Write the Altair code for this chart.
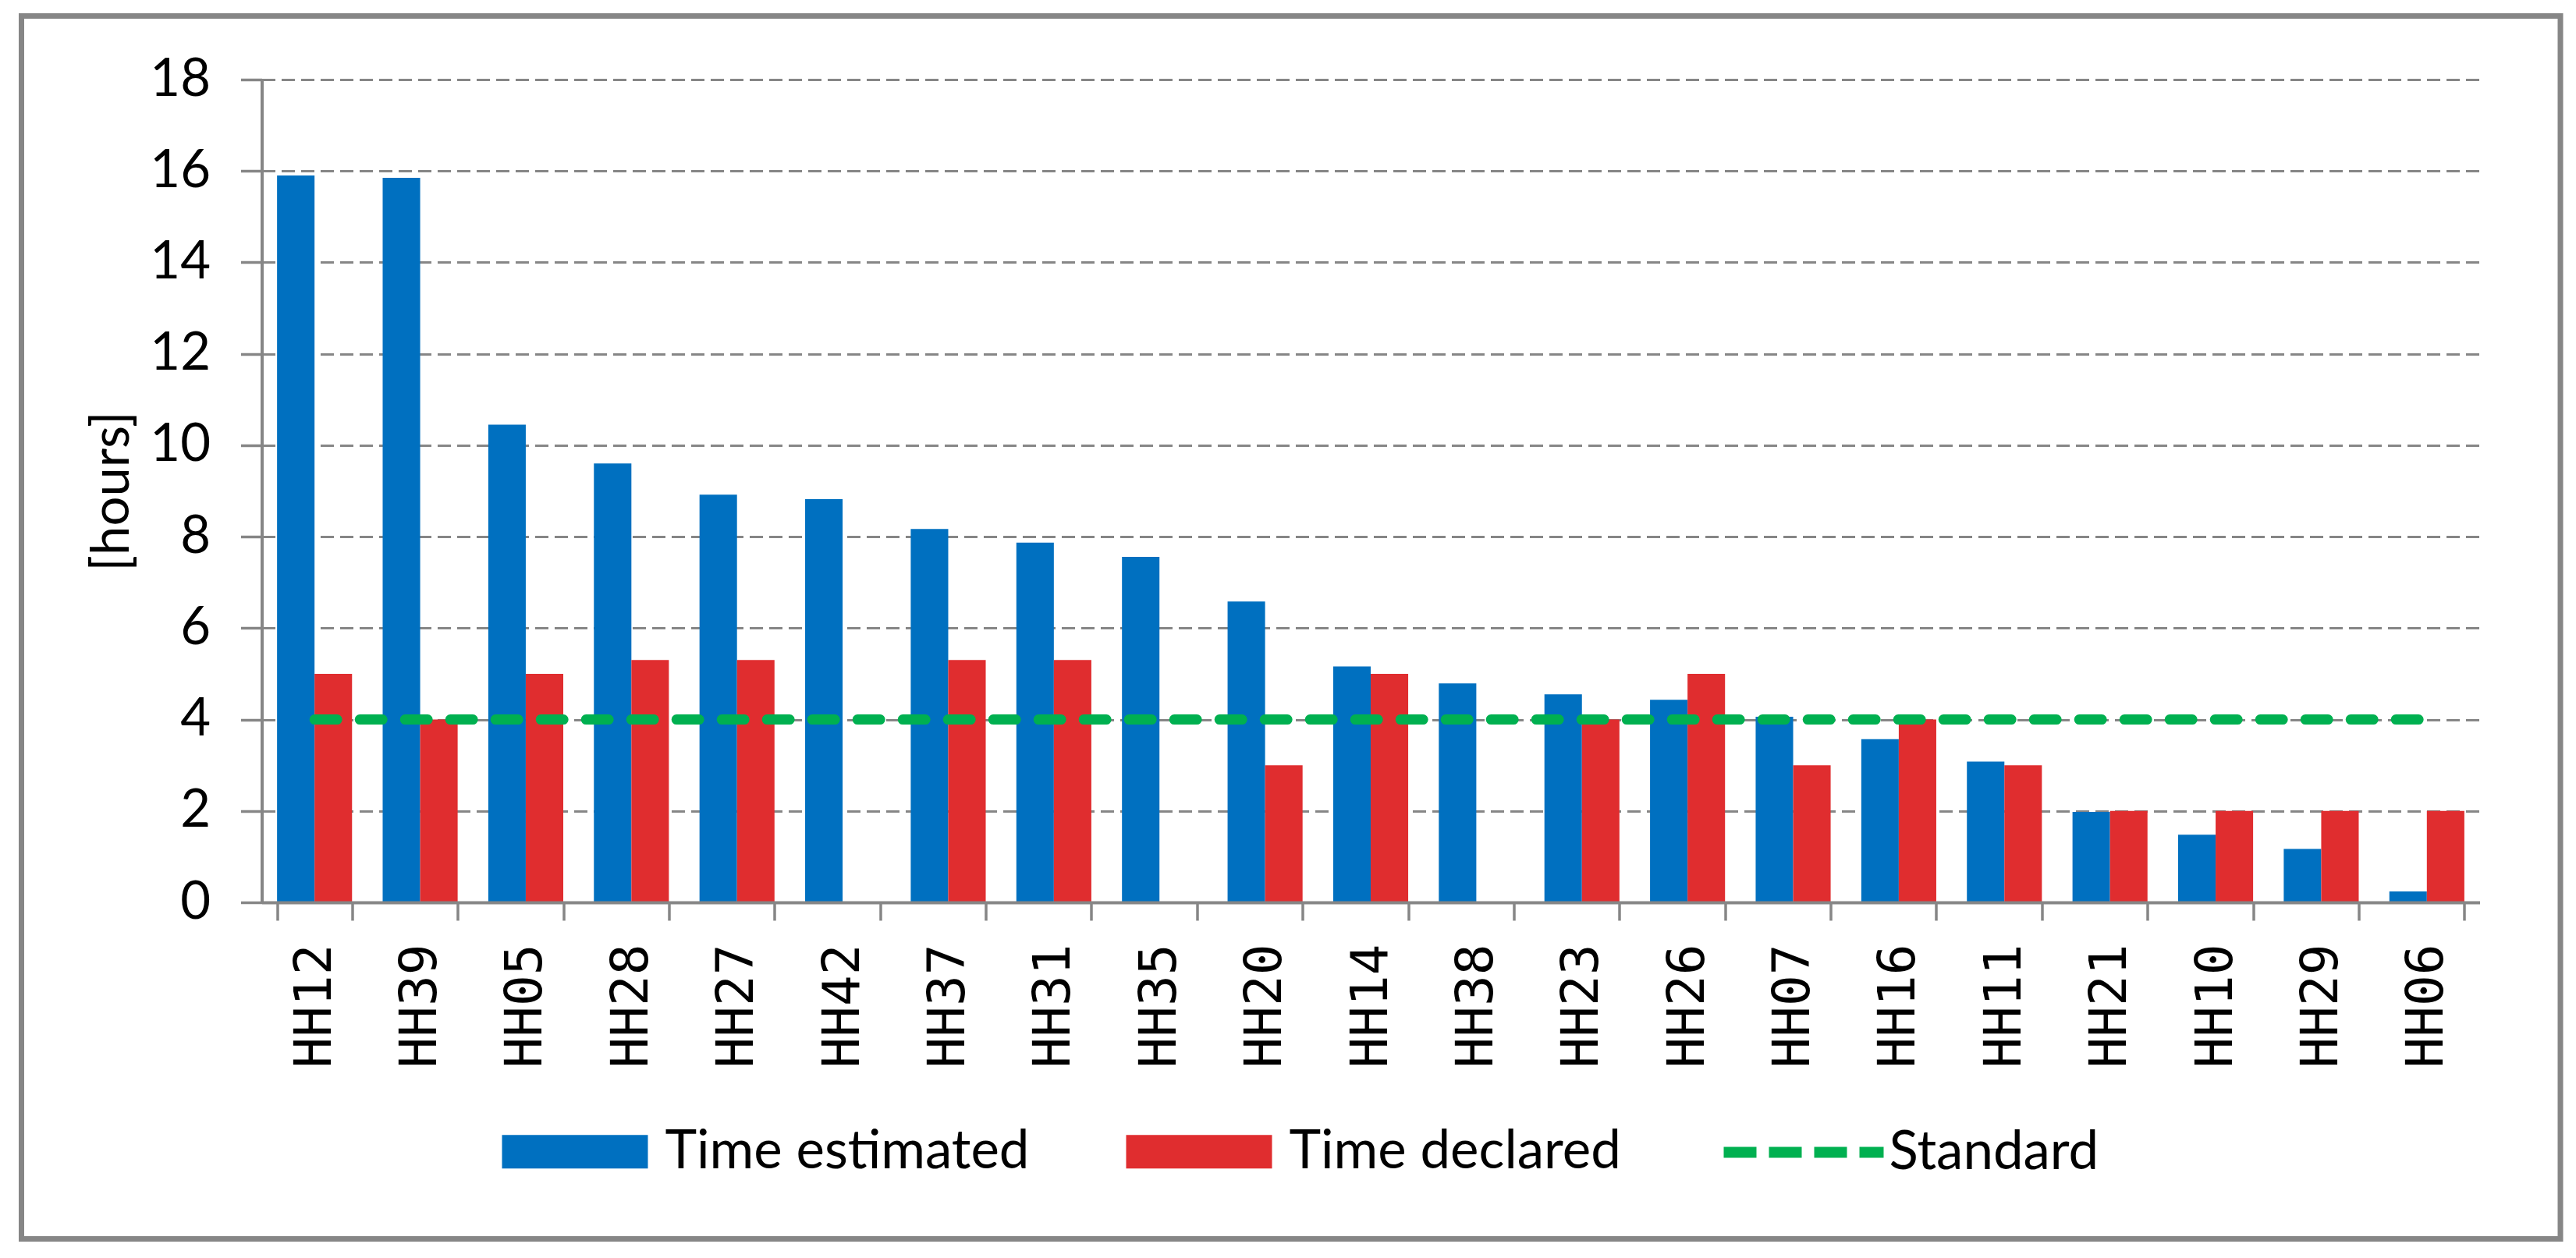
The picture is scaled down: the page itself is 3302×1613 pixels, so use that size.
import altair as alt
import pandas as pd

# ---- data ----
categories = ["HH12", "HH39", "HH05", "HH28", "HH27", "HH42", "HH37", "HH31", "HH35", "HH20",
              "HH14", "HH38", "HH23", "HH26", "HH07", "HH16", "HH11", "HH21", "HH10", "HH29", "HH06"]
time_estimated = [15.9, 15.85, 10.45, 9.6, 8.92, 8.82, 8.17, 7.87, 7.56, 6.58,
                  5.16, 4.79, 4.55, 4.43, 4.06, 3.57, 3.08, 1.98, 1.48, 1.17, 0.24]
time_declared = [5.0, 4.0, 5.0, 5.3, 5.3, None, 5.3, 5.3, None, 3.0,
                 5.0, None, 4.0, 5.0, 3.0, 4.0, 3.0, 2.0, 2.0, 2.0, 2.0]
standard = [4.0, 4.0, 4.0, 4.0, 4.0, 4.0, 4.0, 4.0, 4.0, 4.0,
            4.0, 4.0, 4.0, 4.0, 4.0, 4.0, 4.0, 4.0, 4.0, 4.0, 4.0]
bar_series = ["Time estimated", "Time declared"]
bar_colors = ["#0070C0", "#E02D2F"]
line_series = ["Standard"]
line_colors = ["#00B050"]
y_ticks = [0, 2, 4, 6, 8, 10, 12, 14, 16, 18]
y_title = "[hours]"

# ---- tables ----
bar_rows = []
for c, e, d in zip(categories, time_estimated, time_declared):
    bar_rows.append({"cat": c, "series": bar_series[0], "value": e})
    if d is not None:
        bar_rows.append({"cat": c, "series": bar_series[1], "value": d})
bars_df = pd.DataFrame(bar_rows)
line_df = pd.DataFrame({"cat": categories, "series": line_series[0], "value": standard})
frame_df = pd.DataFrame({"k": [0]})

GRAY = "#868686"
FONT = "Lato"
W, H = 2843, 1055

fill_legend = alt.Legend(
    title=None, orient="none", direction="horizontal",
    legendX=308, legendY=1281, padding=0,
    symbolType="M-1,-0.23H1V0.23H-1Z", symbolSize=34969,
    symbolStrokeWidth=0, symbolOpacity=1, labelOffset=22, columnPadding=124,
    labelFont=FONT, labelFontSize=69, labelColor="black", labelLimit=0,
)
stroke_legend = alt.Legend(
    title=None, orient="none", direction="horizontal",
    legendX=1867, legendY=1266, padding=0,
    symbolType="stroke", symbolSize=42025, symbolStrokeWidth=14,
    symbolDash=[42, 16], symbolOpacity=1, labelOffset=0,
    labelFont=FONT, labelFontSize=69, labelColor="black", labelLimit=0,
)

x_axis = alt.Axis(title=None, labelAngle=270, labelFont="DejaVu Sans Mono", labelFontSize=66,
                  labelColor="black", labelPadding=30, tickSize=23, tickBand="extent",
                  tickColor=GRAY, tickWidth=3.5, domainColor=GRAY, domainWidth=4,
                  grid=False, zindex=1)
x_enc = alt.X("cat:N", sort=categories,
              scale=alt.Scale(paddingInner=0.29, paddingOuter=0.145), axis=x_axis)

y_axis = alt.Axis(values=y_ticks, format="d", title=y_title, titleFont=FONT, titleFontSize=67,
                  titleFontWeight="normal", titleColor="black", titlePadding=13,
                  labelFont=FONT, labelFontSize=67, labelColor="black", labelPadding=39,
                  tickSize=27, tickColor=GRAY, tickWidth=3.5, domainColor=GRAY, domainWidth=4,
                  grid=True, gridColor=GRAY, gridWidth=3, gridDash=[17, 8])
y_enc = alt.Y("value:Q", scale=alt.Scale(domain=[0, 18], nice=False), axis=y_axis)

bars = alt.Chart(bars_df).mark_bar().encode(
    x=x_enc,
    xOffset=alt.XOffset("series:N", scale=alt.Scale(domain=bar_series,
                                                      paddingInner=0, paddingOuter=0)),
    y=y_enc,
    fill=alt.Fill("series:N", scale=alt.Scale(domain=bar_series, range=bar_colors),
                  legend=fill_legend),
)

line = alt.Chart(line_df).mark_line(strokeWidth=13, strokeDash=[29, 29], strokeCap="round").encode(
    x=alt.X("cat:N", sort=categories),
    y=alt.Y("value:Q"),
    stroke=alt.Stroke("series:N", scale=alt.Scale(domain=line_series, range=line_colors),
                      legend=stroke_legend),
)

frame = alt.Chart(frame_df).mark_rect(filled=False, stroke=GRAY, strokeWidth=7).encode(
    x=alt.value(-308), x2=alt.value(2946.5), y=alt.value(-81.5), y2=alt.value(1486.5)
)

chart = alt.layer(bars, line, frame).properties(
    width=W, height=H,
    padding={"left": 15.5, "top": 9, "right": 5, "bottom": 5},
    background="white",
).configure_view(stroke=None)

chart.save("out.html", embed_options={"renderer": "svg", "actions": False})
